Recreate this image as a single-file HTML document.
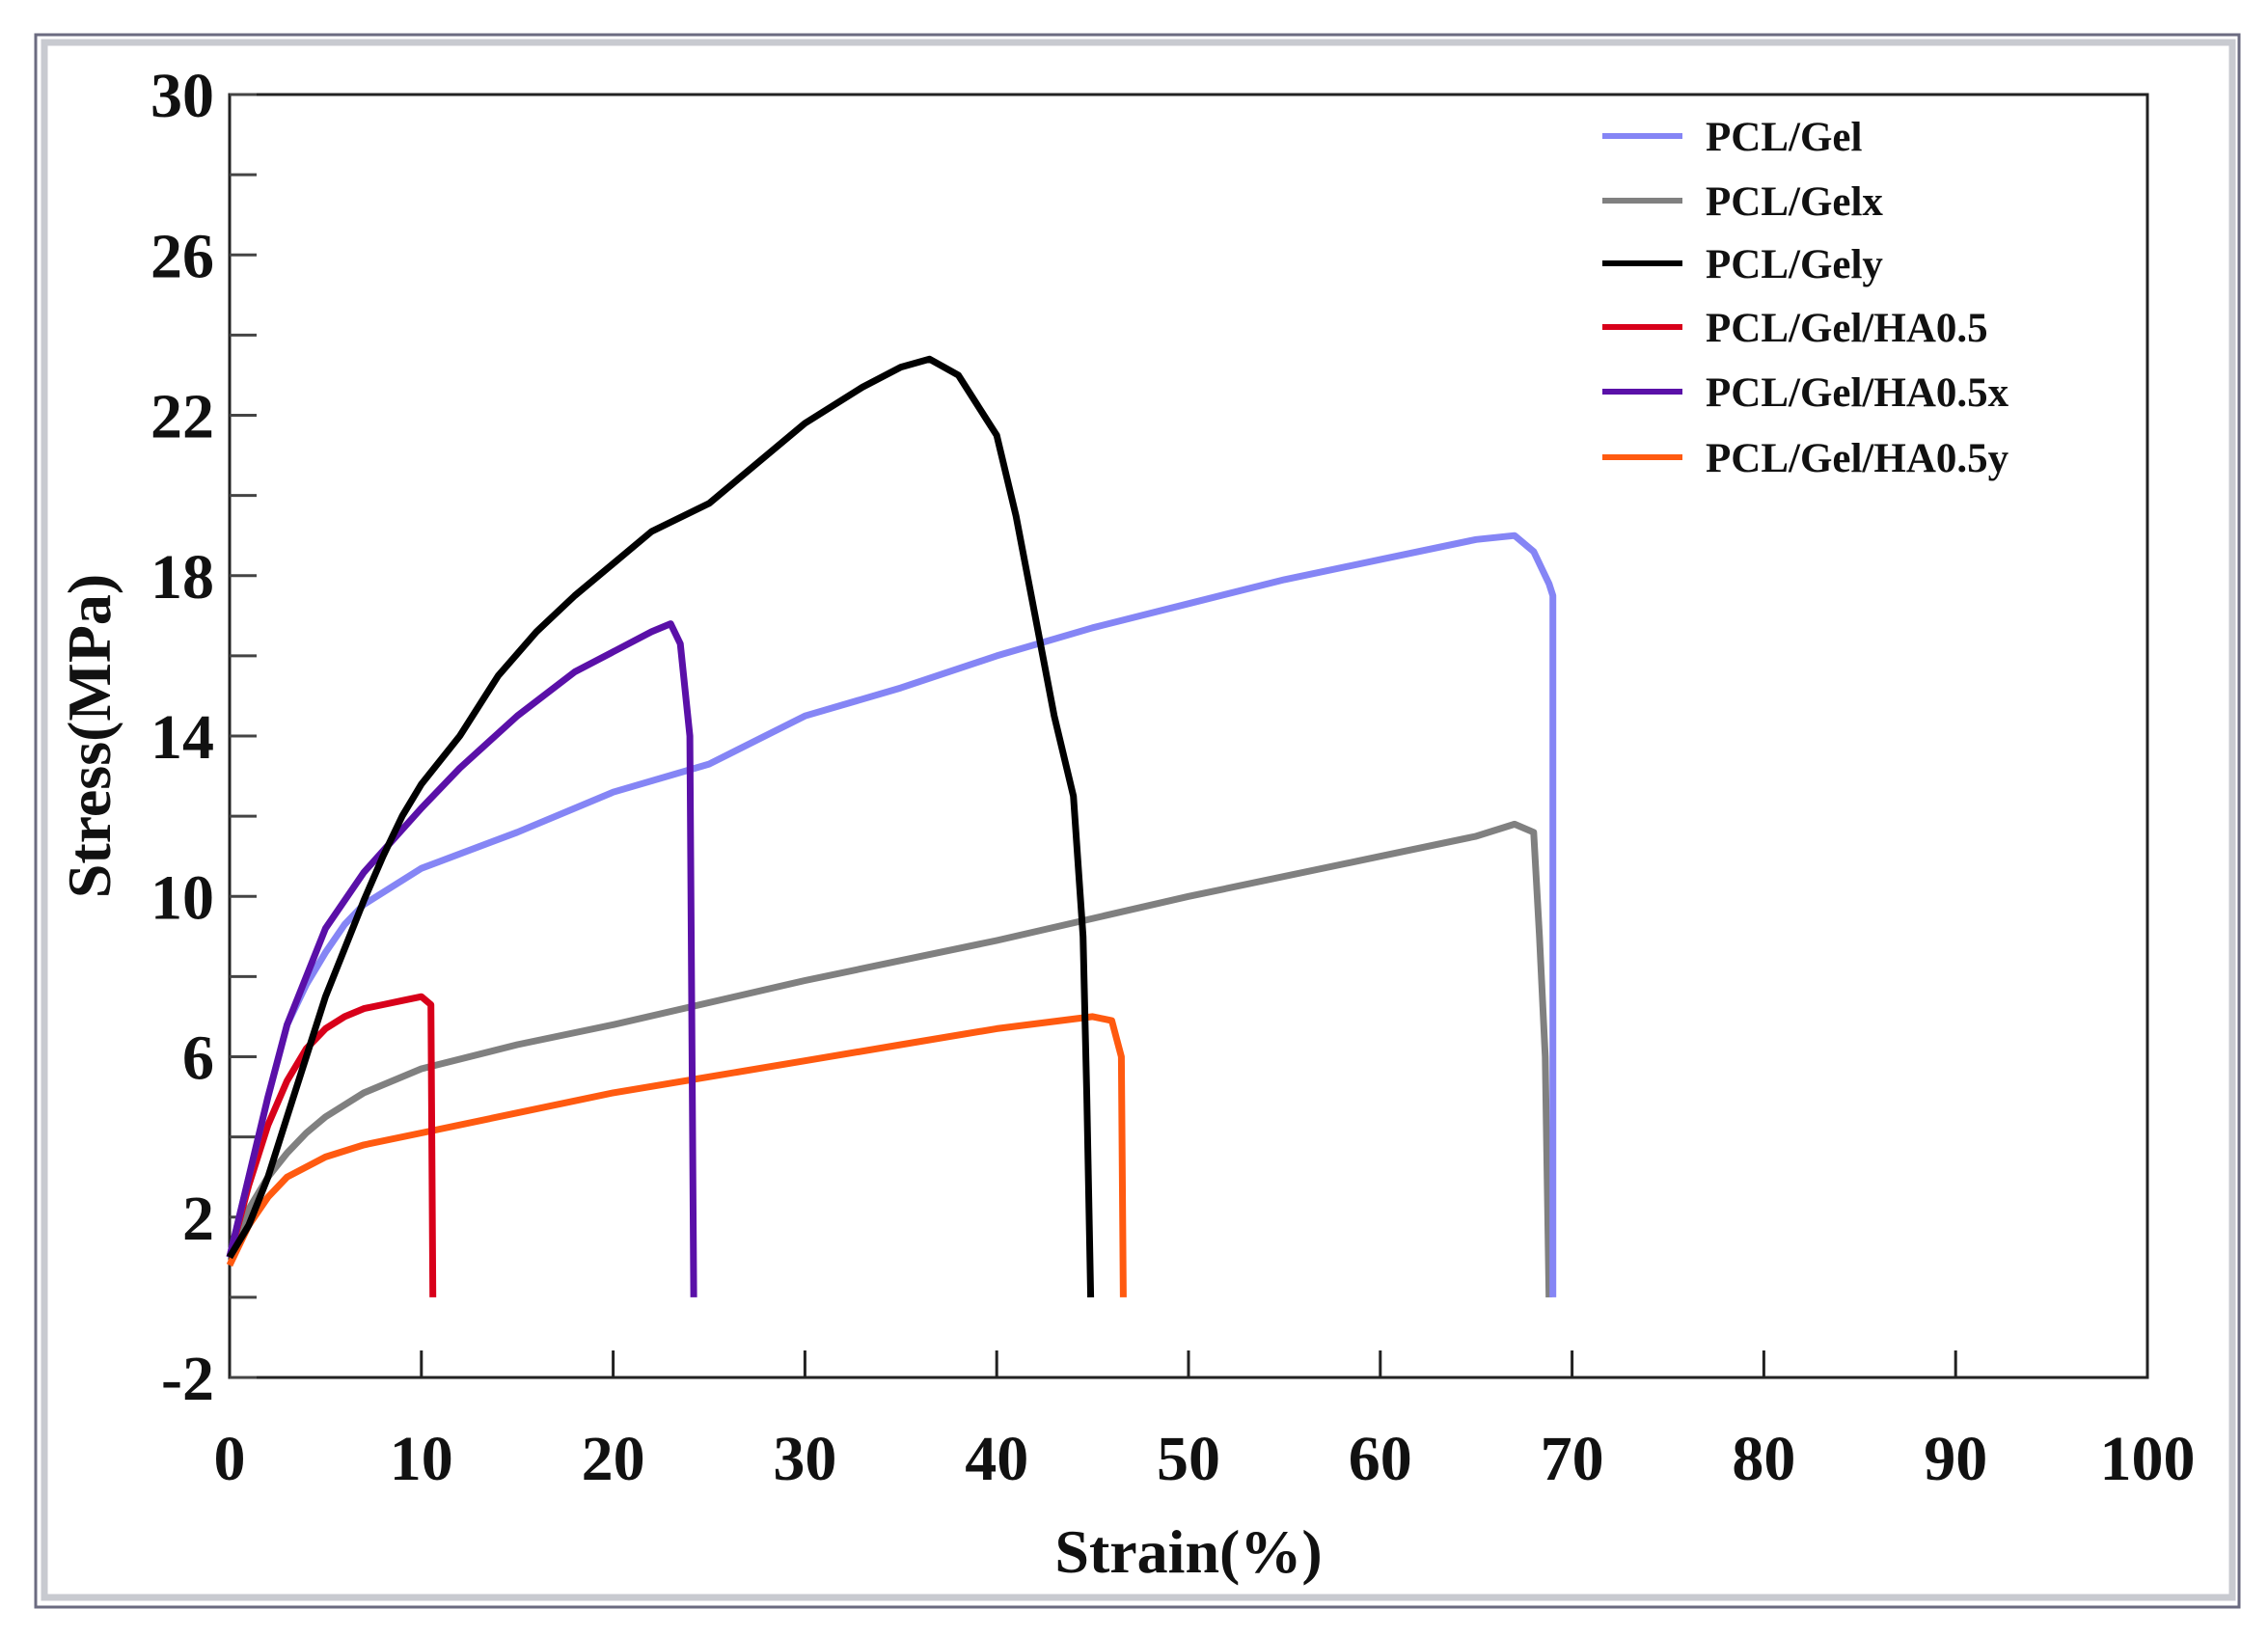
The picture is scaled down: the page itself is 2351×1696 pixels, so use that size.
<!DOCTYPE html>
<html><head><meta charset="utf-8"><style>
html,body{margin:0;padding:0;background:#fff;}
svg{display:block;}
text{font-family:"Liberation Serif",serif;font-weight:bold;fill:#111;}
</style></head><body>
<svg id="chart" width="2351" height="1696">
<rect x="37" y="36" width="2284" height="1630" fill="#fff" stroke="#6b6b80" stroke-width="3"/>
<rect x="46" y="44" width="2268" height="1612" fill="none" stroke="#c8cad0" stroke-width="7"/>
<g id="axes"></g>
<g id="series"></g>
<g id="legend"></g>
</svg>
<script>
const xTicks=[0,10,20,30,40,50,60,70,80,90,100];
const yTicks=[-2,2,6,10,14,18,22,26,30];
const yMinor=[0,4,8,12,16,20,24,28];
const seriesNames=["PCL/Gel","PCL/Gelx","PCL/Gely","PCL/Gel/HA0.5","PCL/Gel/HA0.5x","PCL/Gel/HA0.5y"];
const seriesColors=["#8585f5","#808080","#000000","#d8001a","#5a10a8","#ff5a10"];
const gelX=[0,1,2,3,4,5,6,7,10,15,20,25,30,35,40,45,50,55,60,65,67,68,68.8,69,69];
const gelY=[1,3,5,6.8,7.8,8.6,9.3,9.8,10.7,11.6,12.6,13.3,14.5,15.2,16.0,16.7,17.3,17.9,18.4,18.9,19.0,18.6,17.8,17.5,0];
const gelxX=[0,1,2,3,4,5,7,10,15,20,30,40,50,60,65,67,68,68.3,68.6,68.8];
const gelxY=[1,2.2,3,3.6,4.1,4.5,5.1,5.7,6.3,6.8,7.9,8.9,10.0,11.0,11.5,11.8,11.6,9,6,0];
const gelyX=[0,1,2,3,4,5,6,7,8,9,10,12,14,16,18,20,22,25,28,30,33,35,36.5,38,40,41,42,43,44,44.5,44.7,44.9];
const gelyY=[1,1.8,3,4.5,6,7.5,8.7,9.9,11,12,12.8,14,15.5,16.6,17.5,18.3,19.1,19.8,21,21.8,22.7,23.2,23.4,23,21.5,19.5,17,14.5,12.5,9,5,0];
const haX=[0,1,2,3,4,5,6,7,8,9,10,10.5,10.6];
const haY=[1,2.8,4.3,5.4,6.2,6.7,7,7.2,7.3,7.4,7.5,7.3,0];
const haxX=[0,1,2,3,5,7,10,12,15,18,20,22,23,23.5,24,24.2];
const haxY=[1,3,5,6.8,9.2,10.6,12.2,13.2,14.5,15.6,16.1,16.6,16.8,16.3,14,0];
const hayX=[0,1,2,3,5,7,10,15,20,25,30,35,40,45,46,46.5,46.6];
const hayY=[0.8,1.8,2.5,3,3.5,3.8,4.1,4.6,5.1,5.5,5.9,6.3,6.7,7.0,6.9,6,0];
const allX=[gelX,gelxX,gelyX,haX,haxX,hayX];
const allY=[gelY,gelxY,gelyY,haY,haxY,hayY];

const L=238,R=2226,T=98,B=1428;
const sx=v=>L+(v-0)/(100-0)*(R-L);
const sy=v=>B-(v+2)/(30+2)*(B-T);
const NS="http://www.w3.org/2000/svg";
function mk(tag,attrs,parent){const e=document.createElementNS(NS,tag);for(const k in attrs)e.setAttribute(k,attrs[k]);parent.appendChild(e);return e;}
const axes=document.getElementById('axes');
let r=mk('rect',{x:L,y:T,width:R-L,height:B-T,fill:'none',stroke:'#222','stroke-width':3},axes);


xTicks.forEach(v=>{
  let t=mk('line',{x1:sx(v),x2:sx(v),y1:B,y2:B-28,stroke:'#222','stroke-width':3},axes);
  
  
  let lb=mk('text',{x:sx(v),y:1534,'text-anchor':'middle','font-size':66},axes);
  lb.textContent=v;
  
  
});
yTicks.forEach(v=>{
  let t=mk('line',{x1:L,x2:L+28,y1:sy(v),y2:sy(v),stroke:'#444','stroke-width':3},axes);
  
  
  let lb=mk('text',{x:222,y:sy(v)+23,'text-anchor':'end','font-size':66},axes);
  lb.textContent=v;
  
  
});
yMinor.forEach(v=>{
  let t=mk('line',{x1:L,x2:L+28,y1:sy(v),y2:sy(v),stroke:'#444','stroke-width':3},axes);
  
  
});
let xt=mk('text',{x:1232,y:1630,'text-anchor':'middle','font-size':64},axes);
xt.textContent='Strain(%)';


let yt=mk('text',{x:0,y:0,'text-anchor':'middle','font-size':64,transform:'translate(114,763) rotate(-90)'},axes);
yt.textContent='Stress(MPa)';



const sg=document.getElementById('series');
const order=[1,5,3,0,4,2];
order.forEach(i=>{
  const pts=allX[i].map((x,j)=>sx(x).toFixed(1)+','+sy(allY[i][j]).toFixed(1)).join(' ');
  let p=mk('polyline',{points:pts,fill:'none',stroke:seriesColors[i],'stroke-width':7,'stroke-linejoin':'round'},sg);
  
  
});
const lg=document.getElementById('legend');
const ly=[141,208,273,339,406,474];
seriesNames.forEach((n,i)=>{
  let l=mk('line',{x1:1661,x2:1744,y1:ly[i],y2:ly[i],stroke:seriesColors[i],'stroke-width':6},lg);
  
  
  let t=mk('text',{x:1768,y:ly[i]+15,'font-size':43},lg);
  t.textContent=n;
  
  
});
</script>
</body></html>
